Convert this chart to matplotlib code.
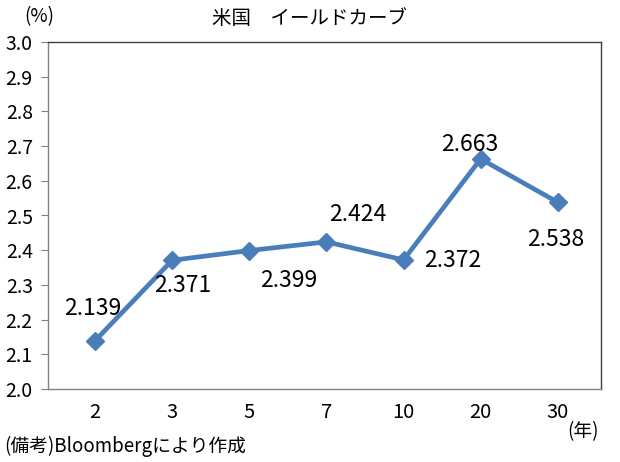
import matplotlib
matplotlib.use("Agg")
import matplotlib.pyplot as plt

plt.rcParams['font.family'] = ['Noto Sans CJK JP', 'DejaVu Sans']

maturities = ["2", "3", "5", "7", "10", "20", "30"]
yields = [2.139, 2.371, 2.399, 2.424, 2.372, 2.663, 2.538]
yticks = [2.0, 2.1, 2.2, 2.3, 2.4, 2.5, 2.6, 2.7, 2.8, 2.9, 3.0]
# label offsets in pixels (dx, dy) relative to the point
label_off = [(-2, 32), (11, -25), (39, -30), (31, 27), (49, -1), (-11, 14), (-2, -37)]

fig = plt.figure(figsize=(6.2, 4.62), dpi=100)
ax = fig.add_axes([48 / 620, 1 - 389 / 462, 553 / 620, 347 / 462])

x = list(range(len(maturities)))
ax.plot(x, yields, color="#4A7EBB", lw=3.4, marker="D", ms=9,
        markeredgecolor="#4A7EBB", markerfacecolor="#4A7EBB")
for xi, yi, (dx, dy) in zip(x, yields, label_off):
    ax.annotate(f"{yi:.3f}", (xi, yi), xytext=(dx, dy), textcoords="offset pixels",
                ha="center", va="center", fontsize=16.5)

ax.set_xlim(-0.61, 6.56)
ax.set_ylim(2.0, 3.0)
ax.set_yticks(yticks)
ax.set_yticklabels([f"{v:.1f}" for v in yticks], fontsize=14)
ax.set_xticks(x)
ax.set_xticklabels(maturities, fontsize=14.5)
ax.tick_params(axis="x", length=0, pad=9)
ax.tick_params(axis="y", length=5, color="#808080", pad=6)
ax.spines["top"].set_color("#404040")
ax.spines["right"].set_color("#404040")
ax.spines["bottom"].set_color("#808080")
ax.spines["left"].set_color("#808080")
for s in ax.spines.values():
    s.set_linewidth(1.0)

fig.text(0.5, 1 - 18 / 462, "米国　イールドカーブ", ha="center", va="center", fontsize=14)
fig.text(39 / 620, 1 - 17 / 462, "(%)", ha="center", va="center", fontsize=13.5)
fig.text(583 / 620, 1 - 432 / 462, "(年)", ha="center", va="center", fontsize=13.5)
fig.text(4 / 620, 1 - 446 / 462, "(備考)Bloombergにより作成", ha="left", va="center", fontsize=13.5)

fig.savefig("out.png", dpi=100)
